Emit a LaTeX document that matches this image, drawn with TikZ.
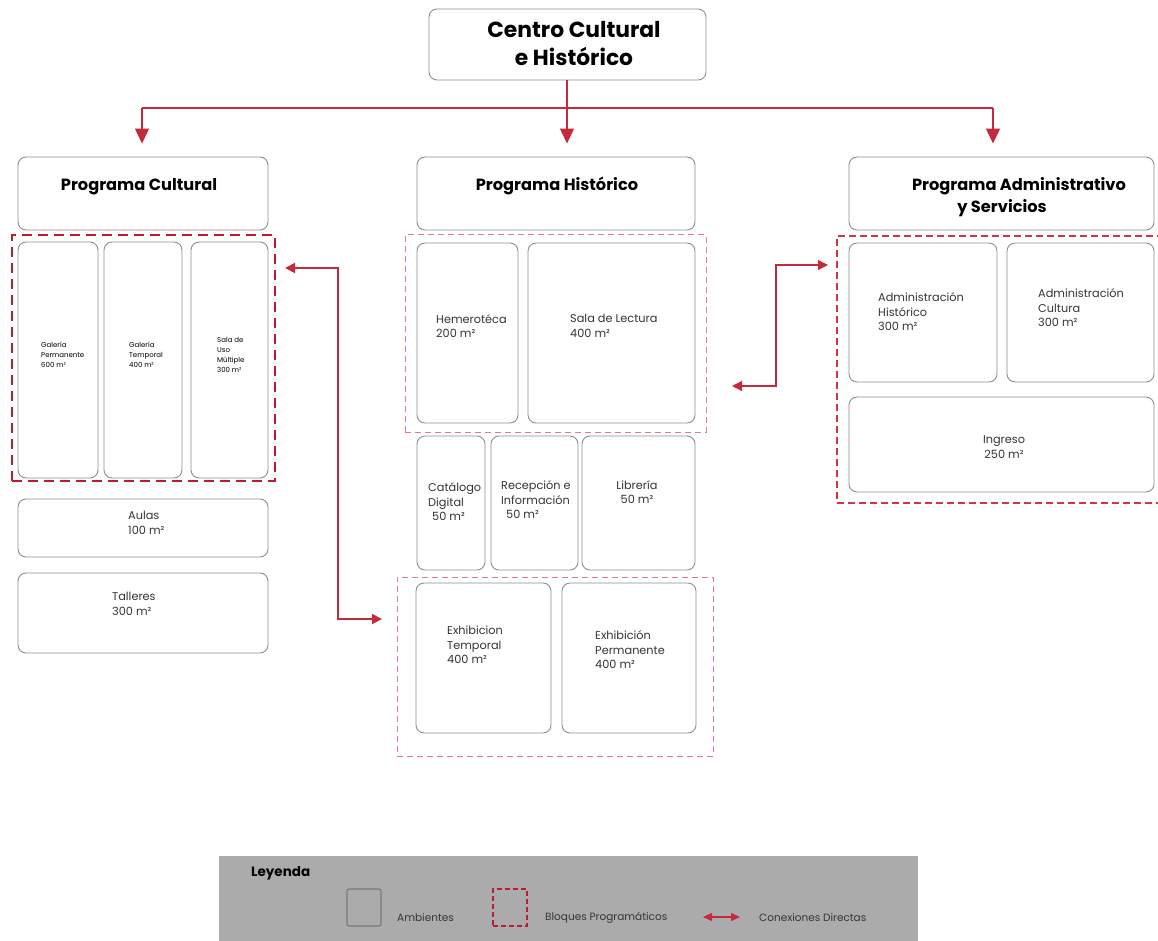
\documentclass[tikz,border=0pt]{standalone}
\usepackage{fontspec}
\setmainfont{Poppins}
\usetikzlibrary{arrows.meta,fit}
\definecolor{boxgray}{HTML}{8E8E8E}
\definecolor{cred}{HTML}{C42A3C}
\definecolor{dred}{HTML}{B81E30}
\definecolor{pinkred}{HTML}{E27A89}
\definecolor{midred}{HTML}{D23446}
\definecolor{legendgray}{HTML}{ABABAB}
\definecolor{txtgray}{HTML}{353535}
\tikzset{
  room/.style={draw=boxgray, line width=0.9pt, rounded corners=8pt, inner sep=0pt, fill=white},
  blockthick/.style={draw=dred, line width=2.4pt, dash pattern=on 10pt off 6pt, inner sep=0pt},
  blockthin/.style={draw=pinkred, line width=1pt, dash pattern=on 6pt off 4pt, inner sep=0pt},
  blockmid/.style={draw=midred, line width=1.3pt, dash pattern=on 7pt off 4pt, inner sep=0pt},
  bigtitle/.style={font=\bfseries\fontsize{21.8}{28}\selectfont, align=center, inner sep=0pt},
  progtitle/.style={font=\bfseries\fontsize{16.2}{22}\selectfont, align=center, inner sep=0pt},
  bodytxt/.style={font=\fontsize{11.3}{14.5}\selectfont, text=txtgray, align=left, anchor=west, inner sep=0pt},
  tinytxt/.style={font=\fontsize{7}{10}\selectfont, text=black, align=left, anchor=west, inner sep=0pt},
  legtxt/.style={font=\fontsize{10.5}{12}\selectfont, text=txtgray, anchor=west, inner sep=0pt},
  tline/.style={draw=cred, line width=1.3pt},
  tarrow/.style={draw=cred, line width=1.3pt, -{Triangle[width=14pt,length=15pt]}, color=cred},
  dconn/.style={draw=cred, line width=1.6pt, {Triangle[width=10pt,length=10pt]}-{Triangle[width=10pt,length=10pt]}},
}
\begin{document}
\begin{tikzpicture}[x=1pt,y=-1pt]
\useasboundingbox (0,0) rectangle (1158,941);

% ---------- top ----------
\node[room, fit={(429,9)(706,80)}] (top) {};
\node[bigtitle] (toptxt) at (574,44) {Centro Cultural\\ e Histórico};

\node[room, fit={(18,157)(268,230)}] (pc) {};
\node[progtitle] (pctxt) at (139,187) {Programa Cultural};
\node[room, fit={(417,157)(695,230)}] (ph) {};
\node[progtitle] (phtxt) at (557,186) {Programa Histórico};
\node[room, fit={(849,157)(1154,230)}] (pa) {};
\node[progtitle] (patxt) at (1019,197) {Programa Administrativo\\\hspace*{-34pt}y Servicios};

\coordinate (j) at (567,108);
\coordinate (jl) at (142,108);
\coordinate (jr) at (993,108);
\draw[tline] (j |- top.south) -- (j);
\draw[tline] (jl) -- (jr);
\draw[tarrow, shorten >=13pt] (jl) -- (jl |- pc.north);
\draw[tarrow, shorten >=13pt] (j) -- (j |- ph.north);
\draw[tarrow, shorten >=13pt] (jr) -- (jr |- pa.north);

% ---------- left column ----------
\node[room, fit={(18,242)(98,478)}] (g1) {};
\node[room, fit={(104,242)(182,478)}] (g2) {};
\node[room, fit={(191,242)(268,478)}] (g3) {};
\node[blockthick, fit={(12,235)(275,481)}] (L) {};
\node[tinytxt] (g1t) at (41,355) {Galería\\Permanente\\600 m²};
\node[tinytxt] (g2t) at (129,355) {Galería\\Temporal\\400 m²};
\node[tinytxt] (g3t) at (217,355) {Sala de\\Uso\\Múltiple\\300 m²};

\node[room, fit={(18,499)(268,557)}] (aulas) {};
\node[bodytxt] (aulast) at (128,523) {Aulas\\100 m²};
\node[room, fit={(18,573)(268,653)}] (talleres) {};
\node[bodytxt] (tallerest) at (112,604) {Talleres\\300 m²};

% ---------- middle column ----------
\node[room, fit={(417,243)(518,423)}] (hem) {};
\node[room, fit={(528,243)(695,423)}] (sala) {};
\node[blockthin, fit={(405,235)(706,432)}] (M1) {};
\node[bodytxt] (hemt) at (436,326) {Hemerotéca\\200 m²};
\node[bodytxt] (salat) at (570,326) {Sala de Lectura\\400 m²};

\node[room, fit={(417,436)(485,570)}] (cat) {};
\node[room, fit={(491,436)(578,570)}] (rec) {};
\node[room, fit={(582,436)(695,570)}] (lib) {};
\node[bodytxt] (catt) at (428,502) {Catálogo\\Digital\\\hspace*{4pt}50 m²};
\node[bodytxt] (rect) at (501,500) {Recepción e\\Información\\\hspace*{5pt}50 m²};
\node[bodytxt, align=center, anchor=center] (libt) at (637,492) {Librería\\50 m²};

\node[room, fit={(416,583)(551,733)}] (ext) {};
\node[room, fit={(562,583)(696,733)}] (exp) {};
\node[blockthin, fit={(397,577)(713,756)}] (M2) {};
\node[bodytxt] (extt) at (447,645) {Exhibicion\\Temporal\\400 m²};
\node[bodytxt] (expt) at (595,650) {Exhibición\\Permanente\\400 m²};

% ---------- right column ----------
\node[room, fit={(849,243)(997,382)}] (adh) {};
\node[room, fit={(1007,243)(1154,382)}] (adc) {};
\node[room, fit={(849,397)(1154,492)}] (ing) {};
\node[blockmid, fit={(837,236)(1164,503)}] (R) {};
\node[bodytxt] (adht) at (878,312) {Administración\\Histórico\\300 m²};
\node[bodytxt] (adct) at (1038,308) {Administración\\Cultura\\300 m²};
\node[bodytxt, align=center, anchor=center] (ingt) at (1004,447) {Ingreso\\250 m²};

% ---------- connectors ----------
\coordinate (a1) at (285,268);
\coordinate (k1) at (338,619);
\coordinate (a2) at (382,619);
\draw[dconn, line width=1.9pt] (a1) -| (k1) -- (a2);
\coordinate (b1) at (732,386);
\coordinate (k2) at (776,265);
\coordinate (b2) at (828,265);
\draw[dconn, line width=1.3pt] (b1) -| (k2) -- (b2);

% ---------- legend ----------
\node[fill=legendgray, inner sep=0pt, fit={(219,856)(918,945)}] (leg) {};
\node[font=\bfseries\fontsize{13.5}{15}\selectfont, anchor=west, inner sep=0pt] (legt) at (251,873) {Leyenda};
\node[draw=boxgray!85!black, line width=1.1pt, rounded corners=2pt, inner sep=0pt, fit={(347,889)(381,926)}] (legroom) {};
\node[legtxt] (legroomt) at (397,918) {Ambientes};
\node[draw=dred, line width=1.1pt, dash pattern=on 5pt off 3pt, inner sep=0pt, fit={(493,889)(527,926)}] (legblock) {};
\node[legtxt] (legblockt) at (545,918) {Bloques Programáticos};
\coordinate (la) at (703,917);
\coordinate (lb) at (740,917);
\draw[draw=cred, line width=1.3pt, {Triangle[width=8pt,length=9pt]}-{Triangle[width=8pt,length=9pt]}] (la) -- (lb);
\node[legtxt] (legconnt) at (759,918) {Conexiones Directas};
\end{tikzpicture}
\end{document}
